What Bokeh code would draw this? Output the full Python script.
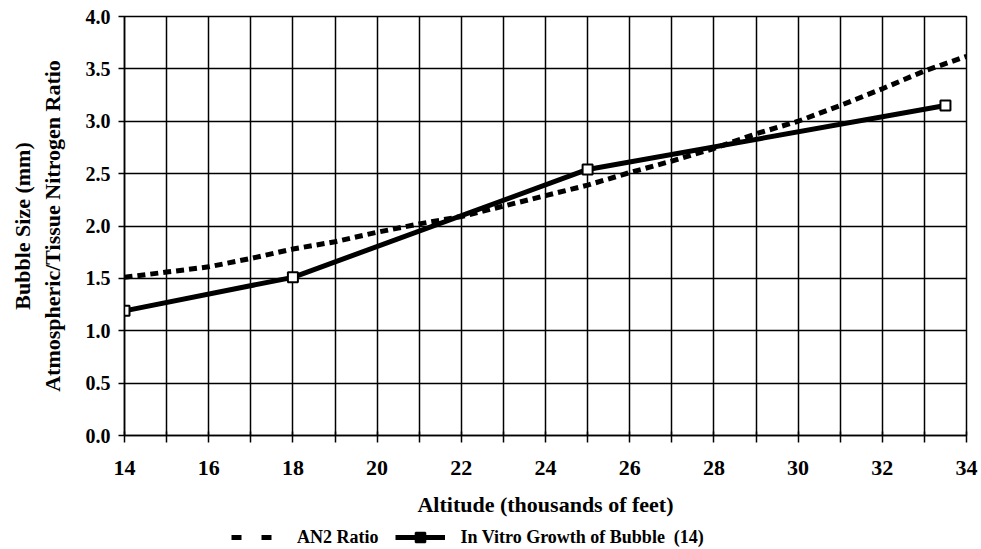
from bokeh.plotting import figure
from bokeh.layouts import column
from bokeh.models import (LinearAxis, FixedTicker, Legend, LegendItem,
                          NumeralTickFormatter, Range1d)
from bokeh.embed import file_html
from bokeh.resources import INLINE

# ---- data ----
altitude_an2 = [14, 15, 16, 17, 18, 19, 20, 21, 22, 23, 24, 25, 26, 27, 28, 29, 30, 31, 32, 33, 34]
an2_ratio = [1.51, 1.56, 1.61, 1.69, 1.78, 1.85, 1.94, 2.02, 2.09, 2.19, 2.29, 2.39, 2.51, 2.62, 2.74,
             2.88, 3.00, 3.15, 3.31, 3.48, 3.62]
altitude_bubble = [14, 18, 25, 33.5]
bubble_size = [1.19, 1.51, 2.54, 3.15]
x_major_ticks = [14, 16, 18, 20, 22, 24, 26, 28, 30, 32, 34]
x_minor_ticks = [15, 17, 19, 21, 23, 25, 27, 29, 31, 33]
x_grid_ticks = list(range(14, 35))
y_ticks = [0.0, 0.5, 1.0, 1.5, 2.0, 2.5, 3.0, 3.5, 4.0]
series_names = ["AN2 Ratio", "In Vitro Growth of Bubble  (14)"]

FONT = "Liberation Serif"

p = figure(width=981, height=523, x_range=Range1d(14, 34), y_range=Range1d(0, 4),
           output_backend="svg", toolbar_location=None,
           min_border_left=124, min_border_right=15, min_border_top=16, min_border_bottom=88,
           y_axis_location=None)
p.background_fill_color = "white"
p.border_fill_color = "white"
p.outline_line_color = "black"
p.outline_line_width = 1.5

# x axis
xa = p.xaxis[0]
xa.ticker = FixedTicker(ticks=x_major_ticks, minor_ticks=x_minor_ticks)
xa.axis_label = "Altitude (thousands of feet)"
xa.axis_label_text_font = FONT
xa.axis_label_text_font_style = "bold"
xa.axis_label_text_font_size = "22px"
xa.axis_label_text_color = "black"
xa.axis_label_standoff = 14
xa.major_label_text_font = FONT
xa.major_label_text_font_style = "bold"
xa.major_label_text_font_size = "22px"
xa.major_label_text_color = "black"
xa.major_label_standoff = 18
xa.axis_line_color = "black"
xa.axis_line_width = 1.5
xa.major_tick_out = 7
xa.major_tick_in = 4
xa.minor_tick_out = 7
xa.minor_tick_in = 4
xa.major_tick_line_color = "black"
xa.minor_tick_line_color = "black"
xa.major_tick_line_width = 1.5
xa.minor_tick_line_width = 1.5

# inner y axis (ticks + ratio label)
ya = LinearAxis(ticker=FixedTicker(ticks=y_ticks, minor_ticks=[]),
                formatter=NumeralTickFormatter(format="0.0"))
ya.axis_label = "Atmospheric/Tissue Nitrogen Ratio"
ya.axis_label_text_font = FONT
ya.axis_label_text_font_style = "bold"
ya.axis_label_text_font_size = "22px"
ya.axis_label_text_color = "black"
ya.axis_label_standoff = 18
ya.major_label_text_font = FONT
ya.major_label_text_font_style = "bold"
ya.major_label_text_font_size = "20px"
ya.major_label_text_color = "black"
ya.major_label_standoff = 8
ya.axis_line_color = "black"
ya.axis_line_width = 1.5
ya.major_tick_out = 6
ya.major_tick_in = 0
ya.major_tick_line_color = "black"
ya.major_tick_line_width = 1.5
p.add_layout(ya, "left")

# outer y axis (only the bubble size label)
ya2 = LinearAxis(ticker=FixedTicker(ticks=[], minor_ticks=[]))
ya2.axis_label = "Bubble Size (mm)"
ya2.axis_label_text_font = FONT
ya2.axis_label_text_font_style = "bold"
ya2.axis_label_text_font_size = "22px"
ya2.axis_label_text_color = "black"
ya2.axis_label_standoff = 2
ya2.axis_line_color = None
ya2.major_tick_line_color = None
ya2.minor_tick_line_color = None
ya2.major_tick_out = 0
ya2.major_label_standoff = 0
p.add_layout(ya2, "left")

# grids
p.xgrid.ticker = FixedTicker(ticks=x_grid_ticks)
p.ygrid.ticker = FixedTicker(ticks=y_ticks)
for g in (p.xgrid[0], p.ygrid[0]):
    g.grid_line_color = "black"
    g.grid_line_width = 1.5
    g.grid_line_alpha = 1.0

# series
p.line(altitude_an2, an2_ratio, line_color="black", line_width=5, line_dash="8 5")
p.line(altitude_bubble, bubble_size, line_color="black", line_width=5)
p.scatter(altitude_bubble, bubble_size, marker="square", size=10,
          fill_color="white", line_color="black", line_width=2)

# ---- legend strip below the chart (its key glyphs fall outside its own frame) ----
lg = figure(width=981, height=26, x_range=Range1d(0, 1), y_range=Range1d(0, 1),
            output_backend="svg", toolbar_location=None, min_border=0,
            x_axis_location=None, y_axis_location=None)
lg.outline_line_color = None
lg.xgrid.visible = False
lg.ygrid.visible = False
lg.background_fill_color = "white"
lg.border_fill_color = "white"
k_an2 = lg.line(altitude_an2, an2_ratio, line_color="black", line_width=5, line_dash="10 20")
k_bub_line = lg.line(altitude_bubble, bubble_size, line_color="black", line_width=5)
k_bub_pts = lg.scatter(altitude_bubble, bubble_size, marker="square", size=10,
                       fill_color="black", line_color="black", line_width=2)

legend = Legend(items=[LegendItem(label=series_names[0], renderers=[k_an2]),
                       LegendItem(label=series_names[1], renderers=[k_bub_line, k_bub_pts])],
                orientation="horizontal", location=(107, 0),
                border_line_color=None, background_fill_alpha=0, padding=0, margin=0,
                spacing=16, glyph_width=50, label_standoff=16,
                label_text_font=FONT, label_text_font_style="bold",
                label_text_font_size="18px", label_text_color="black",
                label_height=24, glyph_height=24)
lg.add_layout(legend, "center")

layout = column(p, lg, spacing=0)
open("out.html", "w").write(file_html(layout, INLINE))
